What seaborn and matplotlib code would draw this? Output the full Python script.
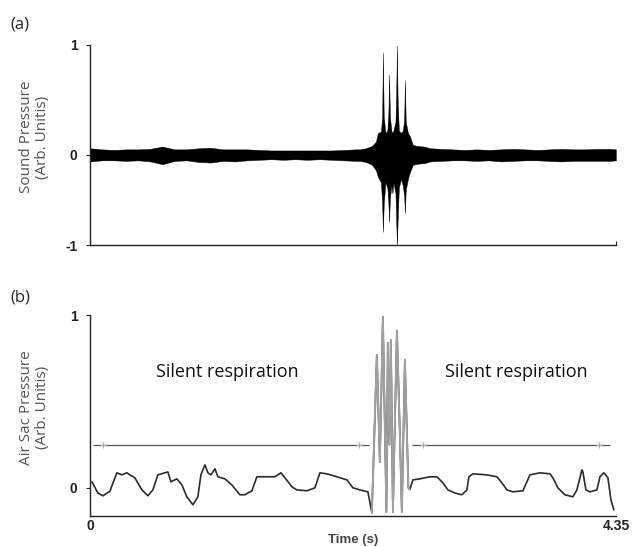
import numpy as np
import pandas as pd
import matplotlib
matplotlib.use("Agg")
import matplotlib.pyplot as plt
import seaborn as sns

# ---- data ----
T_END = 4.35

# (a) sound pressure: envelope of the recording (upper / lower edge of the trace)
snd_t = [0.0, 0.1, 0.2, 0.3, 0.4, 0.5, 0.6, 0.7, 0.8, 0.9, 1.0, 1.1, 1.2, 1.3, 1.4,
         1.5, 1.6, 1.7, 1.8, 1.9, 2.0, 2.1, 2.2,
         2.233, 2.282, 2.332, 2.365, 2.382, 2.407, 2.417, 2.423, 2.430, 2.444,
         2.460, 2.469, 2.474, 2.481, 2.493, 2.502, 2.510, 2.527, 2.533, 2.539,
         2.545, 2.555, 2.572, 2.588, 2.599, 2.605, 2.612, 2.630, 2.646, 2.671,
         2.713, 2.770, 2.812,
         2.9, 3.0, 3.1, 3.2, 3.3, 3.4, 3.5, 3.6, 3.7, 3.8, 3.9, 4.0, 4.1, 4.2,
         4.3, 4.35]
snd_upper = [0.06, 0.05, 0.045, 0.05, 0.05, 0.055, 0.075, 0.05, 0.05, 0.06, 0.065,
             0.05, 0.05, 0.05, 0.045, 0.04, 0.04, 0.04, 0.04, 0.04, 0.04, 0.045, 0.05,
             0.05, 0.06, 0.08, 0.12, 0.2, 0.21, 0.35, 0.93, 0.35, 0.2,
             0.22, 0.4, 0.73, 0.35, 0.22, 0.2, 0.22, 0.3, 0.55, 0.99,
             0.5, 0.22, 0.2, 0.22, 0.32, 0.68, 0.3, 0.2, 0.17, 0.09,
             0.08, 0.075, 0.06,
             0.055, 0.05, 0.045, 0.05, 0.045, 0.05, 0.055, 0.05, 0.045, 0.05,
             0.055, 0.05, 0.05, 0.055, 0.055, 0.05]
snd_lower = [-0.06, -0.05, -0.05, -0.055, -0.05, -0.06, -0.085, -0.055, -0.05, -0.065,
             -0.07, -0.055, -0.06, -0.05, -0.045, -0.04, -0.045, -0.04, -0.045, -0.04,
             -0.045, -0.05, -0.055,
             -0.055, -0.065, -0.09, -0.14, -0.2, -0.25, -0.45, -0.70, -0.45, -0.25,
             -0.3, -0.45, -0.61, -0.4, -0.28, -0.35, -0.25, -0.35, -0.6, -0.82,
             -0.6, -0.3, -0.22, -0.28, -0.38, -0.53, -0.32, -0.22, -0.16, -0.09,
             -0.08, -0.075, -0.06,
             -0.055, -0.05, -0.05, -0.055, -0.05, -0.06, -0.055, -0.05, -0.05, -0.055,
             -0.06, -0.055, -0.055, -0.055, -0.055, -0.05]
snd_ticks = [-0.82, 0, 1]
snd_ticklabels = ["-1", "0", "1"]

# (b) air sac pressure trace
air_t = [0.017, 0.066, 0.108, 0.165, 0.223, 0.265, 0.306, 0.331, 0.372, 0.430,
         0.480, 0.521, 0.562, 0.645, 0.670, 0.719, 0.761, 0.802, 0.852, 0.893,
         0.918, 0.951, 0.976, 1.001, 1.034, 1.059, 1.116, 1.174, 1.240, 1.282,
         1.340, 1.381, 1.422, 1.489, 1.530, 1.580, 1.613, 1.671, 1.712, 1.795,
         1.861, 1.902, 1.960, 2.043, 2.125, 2.175, 2.233, 2.299, 2.332,
         2.373, 2.398, 2.423, 2.452, 2.464, 2.477, 2.489, 2.506, 2.539, 2.564,
         2.580, 2.605, 2.634, 2.646,
         2.671, 2.729, 2.812, 2.870, 2.919, 2.961, 3.019, 3.076, 3.118, 3.134,
         3.167, 3.283, 3.366, 3.407, 3.449, 3.498, 3.581, 3.614, 3.639, 3.722,
         3.804, 3.829, 3.870, 3.928, 3.994, 4.027, 4.069, 4.077, 4.102, 4.135,
         4.193, 4.218, 4.251, 4.284, 4.309, 4.333]
air_p = [0.035, -0.03, -0.046, -0.02, 0.087, 0.075, 0.087, 0.075, 0.058, -0.012,
         -0.046, -0.012, 0.075, 0.092, 0.035, 0.052, 0.017, -0.052, -0.098, -0.052,
         0.075, 0.133, 0.087, 0.075, 0.110, 0.064, 0.052, 0.017, -0.040, -0.040,
         -0.017, 0.064, 0.064, 0.064, 0.064, 0.087, 0.058, 0.006, -0.012, -0.017,
         0.000, 0.087, 0.081, 0.064, 0.046, 0.000, -0.012, -0.023, -0.145,
         0.77, 0.15, 0.99, -0.14, 0.84, 0.25, 0.855, -0.14, 0.91, 0.3,
         -0.14, 0.74, 0.0, -0.01,
         0.046, 0.052, 0.064, 0.064, 0.029, -0.012, -0.030, -0.040, -0.012, 0.064,
         0.081, 0.075, 0.064, 0.029, -0.012, -0.023, -0.017, 0.035, 0.075, 0.087,
         0.081, 0.058, 0.000, -0.040, -0.052, -0.012, 0.104, 0.092, -0.012, -0.023,
         -0.012, 0.064, 0.087, 0.058, -0.070, -0.127]
burst_start, burst_end = 2.332, 2.646

ref_level = 0.25
ref_spans = [(0.025, 2.307), (2.663, 4.300)]
ref_marks = [0.108, 2.225, 2.754, 4.209]
labels_b = ["Silent respiration", "Silent respiration"]
labels_b_t = [1.133, 3.523]
labels_b_y = 0.67

sns.set_theme(style="ticks")
plt.rcParams['font.family'] = ['Open Sans', 'DejaVu Sans']

fig = plt.figure(figsize=(6.33, 5.47), dpi=100)
fig.patch.set_facecolor('white')
ax1 = fig.add_axes([0.142, 0.552, 0.831, 0.366])
ax2 = fig.add_axes([0.142, 0.057, 0.831, 0.367])

# ---- (a) ----
ax1.fill_between(snd_t, snd_lower, snd_upper, color='black', lw=0.3)
ax1.set_xlim(0, T_END)
ax1.set_ylim(-0.82, 1.0)
ax1.set_yticks(snd_ticks)
ax1.set_yticklabels(snd_ticklabels)
ax1.set_xticks([T_END])
ax1.set_xticklabels([])
ax1.tick_params(axis='x', direction='in', length=3, width=0.8)

# ---- (b) ----
df = pd.DataFrame({'t': air_t, 'p': air_p})
sns.lineplot(data=df, x='t', y='p', ax=ax2, color='#2b2b2b', lw=1.2,
             estimator=None, sort=False)
burst = df[(df['t'] >= burst_start) & (df['t'] <= burst_end)]
sns.lineplot(data=burst, x='t', y='p', ax=ax2, color='#a0a0a0', lw=1.4,
             estimator=None, sort=False)
for a, b in ref_spans:
    ax2.hlines(ref_level, a, b, color='#555555', lw=0.9)
ax2.plot(ref_marks, [ref_level] * len(ref_marks), '+', color='#aaaaaa', ms=4, mew=0.8)
for txt, tx in zip(labels_b, labels_b_t):
    ax2.text(tx, labels_b_y, txt, ha='center', va='center', fontsize=13, color='#111111')
ax2.set_xlim(0, T_END)
ax2.set_ylim(-0.162, 1.0)
ax2.set_yticks([0, 1])
ax2.set_yticklabels(["0", "1"])
ax2.set_xticks([0, T_END])
ax2.set_xticklabels(["0", "4.35"])
ax2.set_xlabel("Time (s)", fontsize=9.5, fontweight='bold', color='#444444',
               family=['Liberation Sans'], labelpad=0)

for ax, lab in [(ax1, "Sound Pressure\n(Arb. Unitis)"), (ax2, "Air Sac Pressure\n(Arb. Unitis)")]:
    sns.despine(ax=ax)
    for s in ['left', 'bottom']:
        ax.spines[s].set_color('#222222')
        ax.spines[s].set_linewidth(1.0)
    ax.tick_params(axis='y', direction='out', length=3, width=0.8, pad=6)
    for tl in ax.get_yticklabels() + ax.get_xticklabels():
        tl.set_fontfamily(['Liberation Sans'])
        tl.set_fontweight('bold')
        tl.set_fontsize(10)
        tl.set_color('#222222')
    ax.set_ylabel(lab, fontsize=11, color='#555555', linespacing=1.05)
    ax.yaxis.set_label_coords(-0.076, 0.54)
    ax.set_facecolor('white')

ax2.tick_params(axis='x', direction='out', length=0, pad=2)
ax2.xaxis.set_label_coords(0.5, -0.09)

fig.text(0.032, 0.956, "(a)", fontsize=12, ha='center', va='center')
fig.text(0.032, 0.457, "(b)", fontsize=12, ha='center', va='center')

plt.savefig('out.png', dpi=100)
plt.close()
